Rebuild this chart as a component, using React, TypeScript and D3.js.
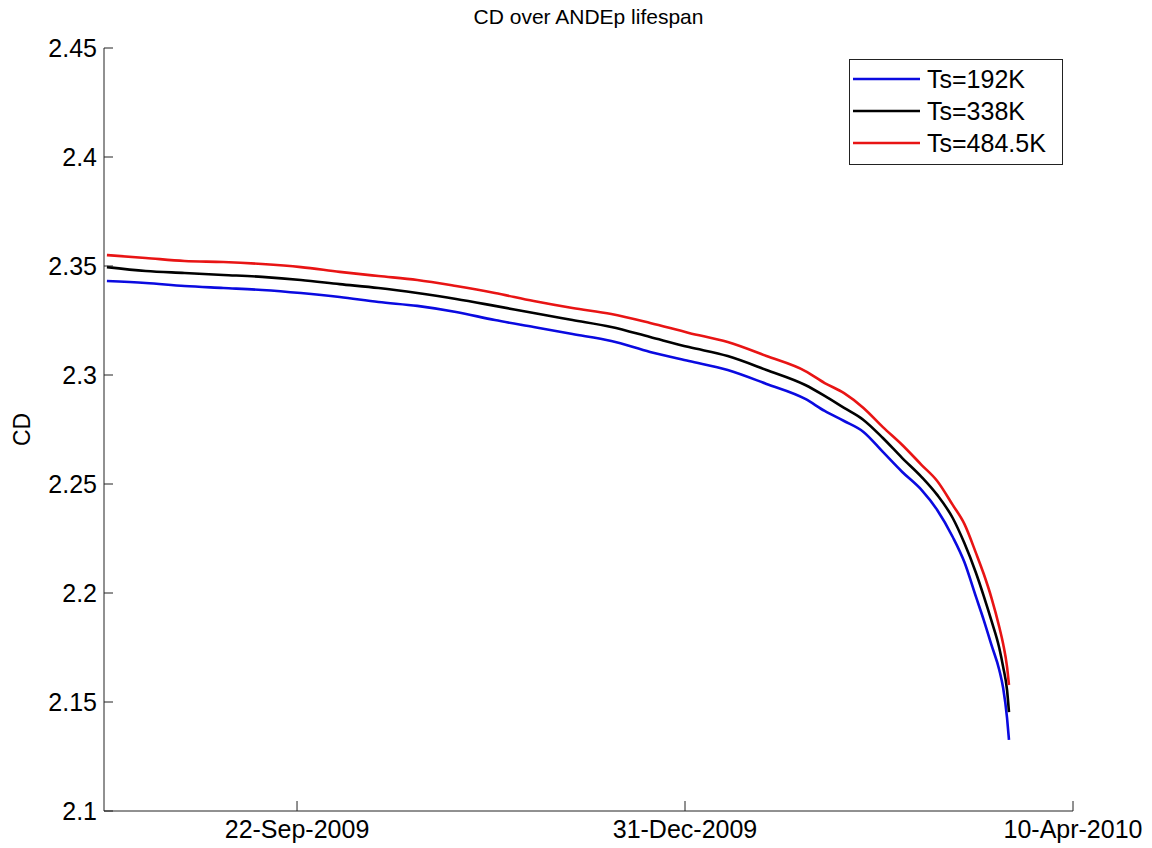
import React, { useEffect, useRef } from 'react';
import * as d3 from 'd3';

// sample dates along the ANDEp lifespan
const dates = [
  '2009-08-04', '2009-08-14', '2009-08-24', '2009-09-03', '2009-09-13', '2009-09-23',
  '2009-10-03', '2009-10-13', '2009-10-23', '2009-11-02', '2009-11-12', '2009-11-22',
  '2009-12-02', '2009-12-12', '2009-12-22', '2010-01-01', '2010-01-11', '2010-01-21',
  '2010-01-31', '2010-02-05', '2010-02-10', '2010-02-15', '2010-02-20', '2010-02-25',
  '2010-03-02', '2010-03-06', '2010-03-10', '2010-03-13', '2010-03-16', '2010-03-18',
  '2010-03-20', '2010-03-22', '2010-03-23', '2010-03-24', '2010-03-24T12:00:00Z',
];

const cd192 = [
  2.3431, 2.3422, 2.3408, 2.3399, 2.3390, 2.3376, 2.3358, 2.3335, 2.3317, 2.3289, 2.3252, 2.3220,
  2.3188, 2.3156, 2.3106, 2.3064, 2.3023, 2.2959, 2.2890, 2.2835, 2.2789, 2.2739, 2.2647, 2.2555,
  2.2472, 2.2381, 2.2257, 2.2142, 2.1982, 2.1876, 2.1761, 2.1647, 2.1564, 2.1427, 2.1326,
];
const cd338 = [
  2.3495, 2.3477, 2.3468, 2.3459, 2.3450, 2.3436, 2.3417, 2.3399, 2.3376, 2.3349, 2.3317, 2.3284,
  2.3252, 2.3220, 2.3174, 2.3128, 2.3087, 2.3023, 2.2954, 2.2904, 2.2849, 2.2794, 2.2711, 2.2619,
  2.2532, 2.2450, 2.2344, 2.2229, 2.2092, 2.1986, 2.1872, 2.1748, 2.1661, 2.1555, 2.1454,
];
const cd4845 = [
  2.3550, 2.3537, 2.3523, 2.3518, 2.3509, 2.3495, 2.3473, 2.3454, 2.3436, 2.3408, 2.3376, 2.3339,
  2.3307, 2.3280, 2.3239, 2.3193, 2.3151, 2.3087, 2.3018, 2.2963, 2.2917, 2.2849, 2.2761, 2.2679,
  2.2587, 2.2514, 2.2404, 2.2317, 2.2183, 2.2087, 2.1977, 2.1844, 2.1766, 2.1661, 2.1578,
];

const seriesNames = ['Ts=192K', 'Ts=338K', 'Ts=484.5K'];
const seriesColors = ['#0a0ae0', '#000000', '#e81414'];
const xTickLabels = ['22-Sep-2009', '31-Dec-2009', '10-Apr-2010'];
const xTickDates = ['2009-09-22', '2009-12-31', '2010-04-10'];
const yTicks = [2.1, 2.15, 2.2, 2.25, 2.3, 2.35, 2.4, 2.45];

const font = '"Liberation Sans", Arial, sans-serif';

export default function App() {
  const ref = useRef<SVGSVGElement | null>(null);

  useEffect(() => {
    const width = 1152, height = 848;
    const left = 104, right = 1073, top = 48, bottom = 811;

    const svg = d3.select(ref.current);
    svg.selectAll('*').remove();
    svg.attr('width', width).attr('height', height);

    svg.append('rect').attr('width', width).attr('height', height).attr('fill', '#fff');

    const x = d3.scaleUtc()
      .domain([new Date('2009-08-03T06:00:00Z'), new Date('2010-04-10')])
      .range([left, right]);
    const y = d3.scaleLinear().domain([2.1, 2.45]).range([bottom, top]);

    const parsed = dates.map(d => new Date(d));
    const allSeries = [cd192, cd338, cd4845];

    const line = d3.line<number>()
      .x((d, i) => x(parsed[i]))
      .y(d => y(d))
      .curve(d3.curveMonotoneX);

    allSeries.forEach((s, i) => {
      svg.append('path')
        .attr('d', line(s))
        .attr('fill', 'none')
        .attr('stroke', seriesColors[i])
        .attr('stroke-width', 2.6)
        .attr('stroke-linejoin', 'round');
    });

    // axes (box off, ticks pointing inward)
    const ax = svg.append('g').attr('stroke', '#222').attr('stroke-width', 1).attr('fill', 'none');
    ax.append('line').attr('x1', left).attr('x2', left).attr('y1', top).attr('y2', bottom);
    ax.append('line').attr('x1', left).attr('x2', right).attr('y1', bottom).attr('y2', bottom);

    yTicks.forEach(t => {
      ax.append('line').attr('x1', left).attr('x2', left + 9).attr('y1', y(t)).attr('y2', y(t));
      svg.append('text')
        .attr('x', left - 7).attr('y', y(t))
        .attr('text-anchor', 'end').attr('dominant-baseline', 'central')
        .attr('font-family', font).attr('font-size', 25)
        .text(String(t));
    });

    xTickDates.forEach((d, i) => {
      const px = x(new Date(d));
      ax.append('line').attr('x1', px).attr('x2', px).attr('y1', bottom).attr('y2', bottom - 10);
      svg.append('text')
        .attr('x', px).attr('y', bottom + 27)
        .attr('text-anchor', 'middle')
        .attr('font-family', font).attr('font-size', 25)
        .text(xTickLabels[i]);
    });

    svg.append('text')
      .attr('x', (left + right) / 2).attr('y', 24)
      .attr('text-anchor', 'middle')
      .attr('font-family', font).attr('font-size', 21)
      .text('CD over ANDEp lifespan');

    svg.append('text')
      .attr('transform', `translate(30,${(top + bottom) / 2}) rotate(-90)`)
      .attr('text-anchor', 'middle')
      .attr('font-family', font).attr('font-size', 23)
      .text('CD');

    // legend
    const lg = svg.append('g');
    lg.append('rect')
      .attr('x', 849.5).attr('y', 59.5).attr('width', 213).attr('height', 105)
      .attr('fill', '#fff').attr('stroke', '#222');
    seriesNames.forEach((name, i) => {
      const ly = 79 + i * 32;
      lg.append('line')
        .attr('x1', 853).attr('x2', 920).attr('y1', ly).attr('y2', ly)
        .attr('stroke', seriesColors[i]).attr('stroke-width', 2.6);
      lg.append('text')
        .attr('x', 927).attr('y', ly)
        .attr('dominant-baseline', 'central')
        .attr('font-family', font).attr('font-size', 25)
        .text(name);
    });
  }, []);

  return <svg ref={ref} style={{ position: 'absolute', left: 0, top: 0 }} />;
}
